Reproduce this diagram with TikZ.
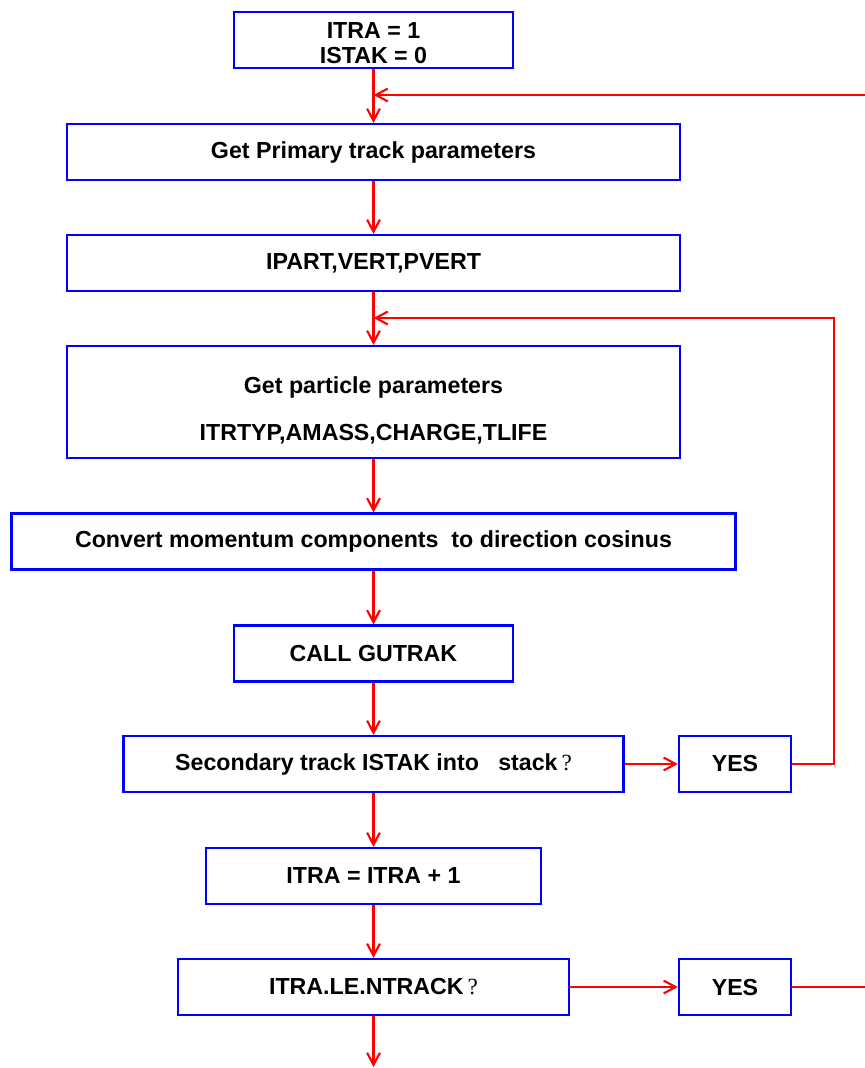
\documentclass[tikz,border=0pt]{standalone}
\usepackage{fontspec}
\setmainfont{Liberation Sans}
\newfontfamily\qfont{Liberation Serif}
\usetikzlibrary{arrows.meta}
\tikzset{
  stepbox/.style={draw=blue, line width=1.6pt, fill=white, minimum height=1.4cm, inner sep=0pt, align=center, font=\bfseries\fontsize{16.5}{19}\selectfont},
  flowarrow/.style={-{Straight Barb[length=3mm, width=3.2mm]}, red, line width=1.5pt}
}
\newcommand{\qmark}{\,{\qfont\mdseries ?}}

\begin{document}
\begin{tikzpicture}[x=0.025cm, y=-0.025cm]
      \useasboundingbox (0,0) rectangle (864,1068);
      \node[stepbox, minimum width=6.975cm] (init) at (373.5,40) {\rule{0pt}{16pt}ITRA = 1\\[-1pt]ISTAK = 0};
      \node[stepbox, minimum width=15.325cm] (prim) at (373.5,152) {Get Primary track parameters};
      \node[stepbox, minimum width=15.325cm] (ipart) at (373.5,263) {IPART,VERT,PVERT};
      \node[stepbox, minimum width=15.325cm, minimum height=2.8cm] (part) at (373.5,402) {\rule{0pt}{24pt}Get particle parameters\\[14pt]ITRTYP,AMASS,CHARGE,TLIFE};
      \node[stepbox, minimum width=18.1cm] (conv) at (373.5,541.5) {Convert momentum components\ \ to direction cosinus};
      \node[stepbox, minimum width=6.975cm] (gutrak) at (373.5,653.5) {CALL GUTRAK};
      \node[stepbox, minimum width=12.5cm] (sec) at (373.5,764) {Secondary track ISTAK into\ \ \ stack\qmark};
      \node[stepbox, minimum width=2.8cm] (yes1) at (735,764) {YES};
      \node[stepbox, minimum width=8.375cm] (incr) at (373.5,876) {ITRA = ITRA + 1};
      \node[stepbox, minimum width=9.775cm] (test) at (373.5,987) {ITRA.LE.NTRACK\qmark};
      \node[stepbox, minimum width=2.8cm] (yes2) at (735,987) {YES};
      \coordinate (top) at (373.5,95);
      \coordinate (rtop) at (880,95);
      \coordinate (mid) at (373.5,318);
      \coordinate (rmid) at (834,318);
      \coordinate (out) at (373.5,1067);
      \draw[flowarrow] (init) -- (prim);
      \draw[flowarrow] (prim) -- (ipart);
      \draw[flowarrow] (ipart) -- (part);
      \draw[flowarrow] (part) -- (conv);
      \draw[flowarrow] (conv) -- (gutrak);
      \draw[flowarrow] (gutrak) -- (sec);
      \draw[flowarrow] (sec) -- (yes1);
      \draw[flowarrow] (sec) -- (incr);
      \draw[flowarrow] (incr) -- (test);
      \draw[flowarrow] (test) -- (yes2);
      \draw[flowarrow] (test) -- (out);
      \draw[flowarrow] (yes1.east) -| (rmid) -- (mid);
      \draw[flowarrow] (yes2.east) -| (rtop) -- (top);
    \end{tikzpicture}
\end{document}
